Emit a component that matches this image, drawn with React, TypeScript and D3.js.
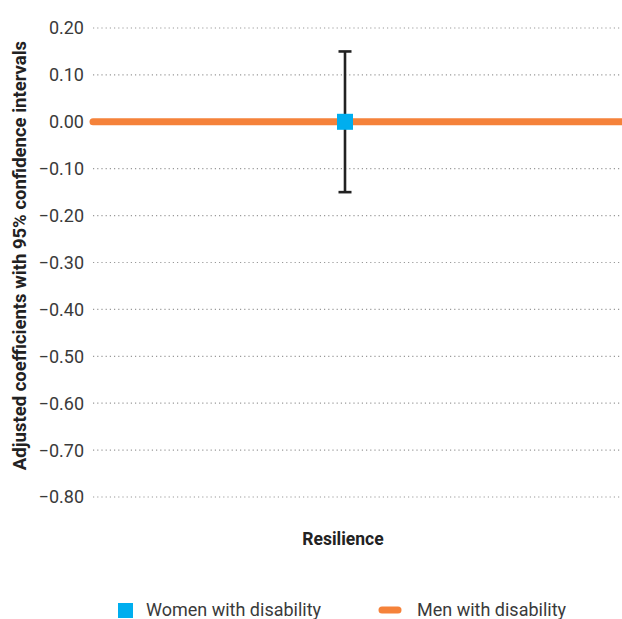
import React from "react";
import * as d3 from "d3";

const categories = ["Resilience"];
const womenValues = [0.0];
const womenLower = [-0.15];
const womenUpper = [0.15];
const menValues = [0.0];
const yTicks = [0.2, 0.1, 0.0, -0.1, -0.2, -0.3, -0.4, -0.5, -0.6, -0.7, -0.8];
const seriesNames = ["Women with disability", "Men with disability"];

const W = 622;
const H = 619;
const left = 93;
const right = 597;
const top = 28;
const bottom = 497;

const fmt = (v: number) => (v < 0 ? "\u2212" + Math.abs(v).toFixed(2) : v.toFixed(2));

export default function App() {
  const x = d3.scaleBand<string>().domain(categories).range([left, right]);
  const y = d3.scaleLinear().domain([-0.8, 0.2]).range([bottom, top]);
  const font = "Roboto, 'Noto Sans', sans-serif";
  const orange = "#F5823A";
  const blue = "#00AEEF";
  return (
    <svg width={W} height={H} style={{ position: "absolute", left: 0, top: 0 }} fontFamily={font}>
      {yTicks.map((t) => (
        <g key={t}>
          <line x1={left} x2={W} y1={y(t)} y2={y(t)} stroke="#999" strokeWidth={1.2} strokeDasharray="1.2 3" />
          <text x={84} y={y(t)} dy="0.36em" textAnchor="end" fontSize={18} fill="#3a3a3a">
            {fmt(t)}
          </text>
        </g>
      ))}
      {menValues.map((v, i) => (
        <line key={"m" + i} x1={left} x2={W} y1={y(v)} y2={y(v)} stroke={orange} strokeWidth={7} strokeLinecap="round" />
      ))}
      {categories.map((c, i) => {
        const cx = (x(c) as number) + x.bandwidth() / 2;
        return (
          <g key={c}>
            <line x1={cx} x2={cx} y1={y(womenUpper[i])} y2={y(womenLower[i])} stroke="#222" strokeWidth={2.6} />
            <line x1={cx - 6.5} x2={cx + 6.5} y1={y(womenUpper[i])} y2={y(womenUpper[i])} stroke="#222" strokeWidth={2.6} />
            <line x1={cx - 6.5} x2={cx + 6.5} y1={y(womenLower[i])} y2={y(womenLower[i])} stroke="#222" strokeWidth={2.6} />
            <rect x={cx - 8} y={y(womenValues[i]) - 8} width={16} height={16} fill={blue} />
            <text x={cx - 2} y={545} textAnchor="middle" fontSize={17.5} fontWeight="bold" fill="#222">
              {c}
            </text>
          </g>
        );
      })}
      <text
        transform={`translate(26, ${(top + bottom) / 2 - 7}) rotate(-90)`}
        textAnchor="middle"
        fontSize={18.5}
        fontWeight="bold"
        fill="#222"
      >
        Adjusted coefficients with 95% confidence intervals
      </text>
      <rect x={118} y={603} width={15} height={15} fill={blue} />
      <text x={146} y={616} fontSize={18} fill="#3a3a3a">{seriesNames[0]}</text>
      <line x1={382} x2={398} y1={610} y2={610} stroke={orange} strokeWidth={7} strokeLinecap="round" />
      <text x={417} y={616} fontSize={18} fill="#3a3a3a">{seriesNames[1]}</text>
    </svg>
  );
}
